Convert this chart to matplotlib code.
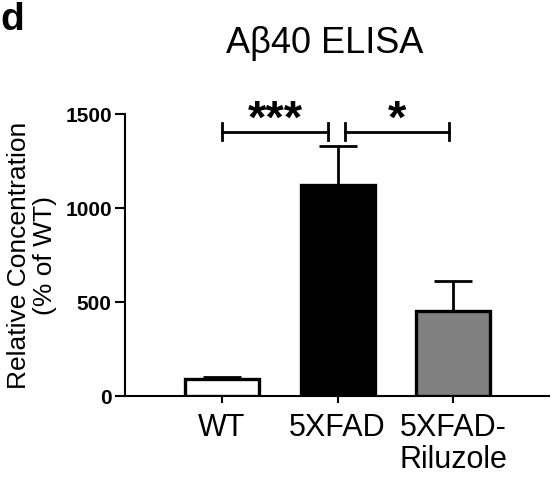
import numpy as np
import matplotlib
matplotlib.use("Agg")
import matplotlib.pyplot as plt

plt.rcParams['font.family'] = ['Liberation Sans', 'DejaVu Sans']

# data
groups   = ["WT", "5XFAD", "5XFAD-\nRiluzole"]
means    = [88, 1125, 455]
sem      = [12, 205, 158]
colors   = ["white", "black", "#808080"]
yticks   = [0, 500, 1000, 1500]
# significance brackets: (x_start, x_end, y, label)
brackets = [(0.0, 0.92, 1407, "***"), (1.065, 1.965, 1407, "*")]

fig = plt.figure(figsize=(5.52, 4.78), dpi=100)
ax = fig.add_axes([0.2264, 0.1715, 0.7682, 0.5894])

x = np.arange(len(groups))
ax.bar(x, means, width=0.64, color=colors, edgecolor="black",
       linewidth=2.4, zorder=3)
ax.errorbar(x, means, yerr=[np.zeros(len(sem)), sem], fmt="none",
            ecolor="black", elinewidth=2.0, capsize=14, capthick=2.0,
            zorder=2)

ax.set_xlim(-0.84, 2.83)
ax.set_ylim(0, 1500)
ax.set_yticks(yticks)
ax.set_yticklabels([str(t) for t in yticks], fontsize=15, fontweight="bold")
ax.set_xticks(x)
ax.set_xticklabels(groups, fontsize=22, linespacing=1.12)
ax.tick_params(axis="y", direction="out", length=7.5, width=1.5, pad=2)
ax.tick_params(axis="x", direction="out", length=5, width=1.5, pad=7)

for s in ["top", "right"]:
    ax.spines[s].set_visible(False)
for s in ["left", "bottom"]:
    ax.spines[s].set_linewidth(1.5)

ax.set_ylabel("Relative Concentration\n(% of WT)", fontsize=19,
              linespacing=1.1, labelpad=6)

# significance brackets
for x0, x1, yb, lab in brackets:
    ax.plot([x0, x1], [yb, yb], color="black", lw=2.0, clip_on=False)
    ax.plot([x0, x0], [yb - 45, yb + 45], color="black", lw=2.0, clip_on=False)
    ax.plot([x1, x1], [yb - 45, yb + 45], color="black", lw=2.0, clip_on=False)
    ax.text((x0 + x1) / 2, yb - 5, lab, ha="center", va="baseline",
            fontsize=34, fontweight="bold", clip_on=False)

fig.text(0.5888, 0.91, "A\u03b240 ELISA", ha="center", va="center", fontsize=26)
fig.text(0.0, 0.995, "d", ha="left", va="top", fontsize=28, fontweight="bold")

fig.savefig("out.png", dpi=100)
